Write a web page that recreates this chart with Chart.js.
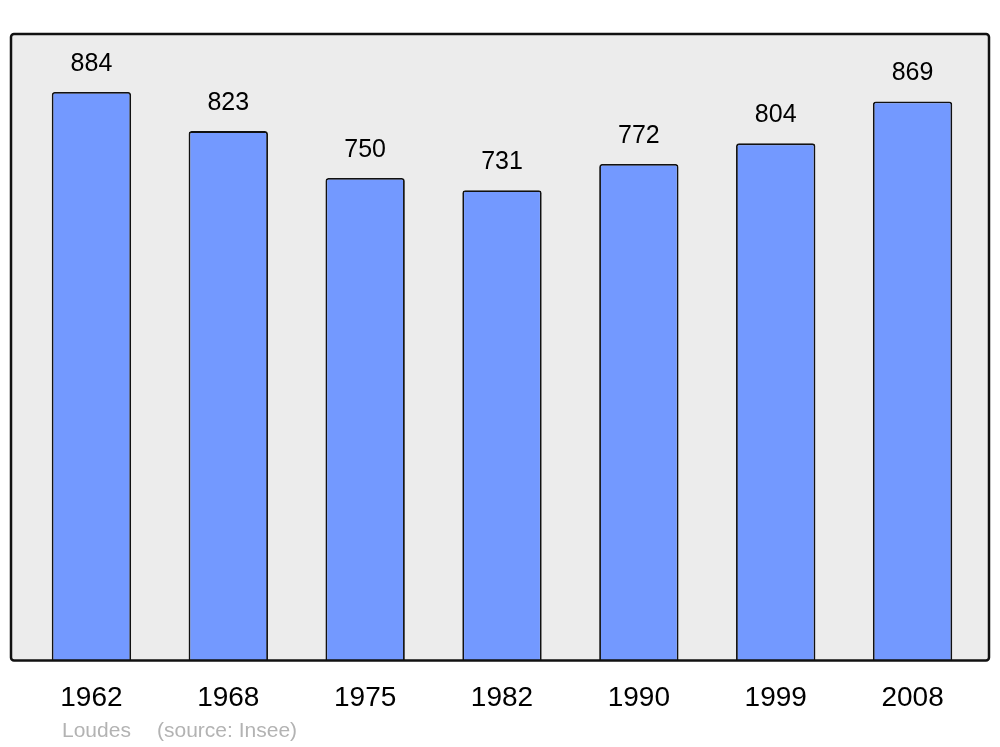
<!DOCTYPE html>
<html>
<head>
<meta charset="utf-8">
<script src="https://cdn.jsdelivr.net/npm/chart.js@4"></script>
<style>
  html, body { margin: 0; padding: 0; background: #fff; }
  #grafico { display: block; }
</style>
</head>
<body>
<canvas id="grafico" width="1000" height="747"></canvas>
<script>
// données : population de Loudes
const annees = ["1962", "1968", "1975", "1982", "1990", "1999", "2008"];
const population = [884, 823, 750, 731, 772, 804, 869];
const commune = "Loudes";
const source = "(source: Insee)";

// cadre gris derriere les barres
const cadre = {
    id: "cadre",
    beforeDatasetsDraw(chart) {
        const a = chart.chartArea;
        const ctx = chart.ctx;
        const x = a.left - 12, y = a.top, w = a.right - a.left + 20, h = a.bottom - a.top;
        ctx.save();
        ctx.beginPath();
        ctx.roundRect(x, y, w, h, 3);
        ctx.fillStyle = "#ececec";
        ctx.fill();
        ctx.restore();
    },
    afterDatasetsDraw(chart) {
        const a = chart.chartArea;
        const ctx = chart.ctx;
        const x = a.left - 12, y = a.top, w = a.right - a.left + 20, h = a.bottom - a.top;
        ctx.save();
        ctx.beginPath();
        ctx.roundRect(x, y, w, h, 3);
        ctx.lineWidth = 2.5;
        ctx.strokeStyle = "#111";
        ctx.stroke();

        // valeurs au-dessus des barres
        const meta = chart.getDatasetMeta(0);
        ctx.fillStyle = "#000";
        ctx.font = "25px 'Liberation Sans', Arial, sans-serif";
        ctx.textAlign = "center";
        ctx.textBaseline = "middle";
        meta.data.forEach((barre, i) => {
            ctx.fillText(String(population[i]), barre.x, barre.y - 28);
        });

        // source
        ctx.fillStyle = "#b3b3b3";
        ctx.font = "21px 'Liberation Sans', Arial, sans-serif";
        ctx.textAlign = "left";
        ctx.fillText(commune, 62, 731);
        ctx.fillText(source, 157, 731);
        ctx.restore();
    }
};

new Chart(document.getElementById("grafico"), {
    type: "bar",
    data: {
        labels: annees,
        datasets: [{
            data: population,
            backgroundColor: "#7399ff",
            borderColor: "#111",
            borderWidth: 1.8,
            borderRadius: 3,
            borderSkipped: "bottom",
            barPercentage: 0.58,
            categoryPercentage: 1
        }]
    },
    options: {
        responsive: false,
        animation: false,
        layout: { padding: { top: 34, left: 23, right: 19, bottom: 11 } },
        plugins: { legend: { display: false }, tooltip: { enabled: false } },
        scales: {
            x: {
                grid: { display: false, drawTicks: false },
                border: { display: false },
                ticks: {
                    color: "#000",
                    padding: 21,
                    font: { family: "'Liberation Sans', Arial, sans-serif", size: 28 }
                }
            },
            y: { display: false, min: 0, max: 974 }
        }
    },
    plugins: [cadre]
});
</script>
</body>
</html>
